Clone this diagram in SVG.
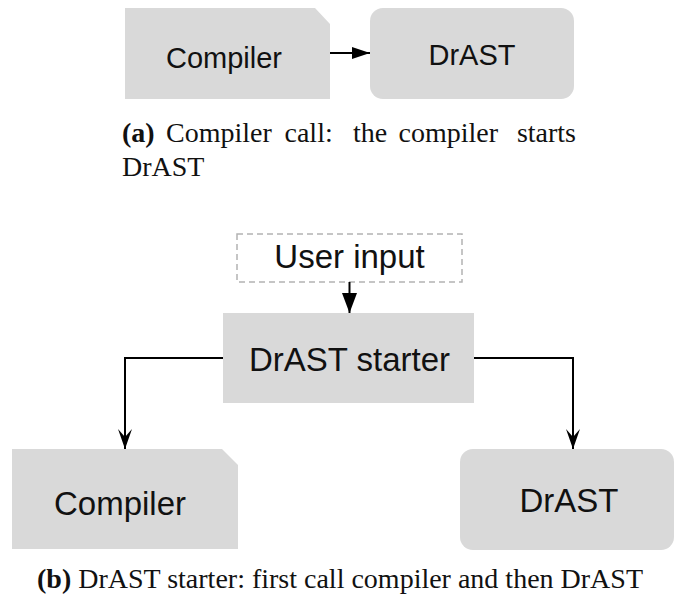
<svg xmlns="http://www.w3.org/2000/svg" width="674" height="603" viewBox="0 0 674 603">
  <style>
    .box { fill: #d9d9d9; stroke: none; }
    .dash { fill: #ffffff; stroke: #b3b3b3; stroke-width: 1.5; stroke-dasharray: 6 4; }
    .lbl { font-family: "Liberation Sans", Arial, sans-serif; fill: #111; text-anchor: middle; }
    .s29 { font-size: 29px; }
    .s33 { font-size: 33px; }
    .cap { font-family: "Liberation Serif", "Times New Roman", serif; font-size: 28px; fill: #111; }
    .b { font-weight: bold; }
    .edge { fill: none; stroke: #000; stroke-width: 2; }
    .head { fill: #000; stroke: none; }
  </style>
  <defs>
    <marker id="tri" viewBox="0 0 18 12" refX="18" refY="6" markerWidth="18" markerHeight="12" markerUnits="userSpaceOnUse" orient="auto">
      <path d="M0,0 L18,6 L0,12 Z" class="head"/>
    </marker>
    <marker id="tri2" viewBox="0 0 20 15" refX="20" refY="7.5" markerWidth="20" markerHeight="15" markerUnits="userSpaceOnUse" orient="auto">
      <path d="M0,0 L20,7.5 L0,15 Z" class="head"/>
    </marker>
    <marker id="barb" viewBox="0 0 20 14" refX="20" refY="7" markerWidth="20" markerHeight="14" markerUnits="userSpaceOnUse" orient="auto">
      <path d="M0,0 L20,7 L0,14 L8,7 Z" class="head"/>
    </marker>
  </defs>

  <!-- (a) -->
  <g id="a-compiler">
    <path class="box" d="M125,8 H315 L330,24 V99 H125 Z"/>
    <text class="lbl s29" x="224" y="68">Compiler</text>
  </g>
  <g id="a-drast">
    <rect class="box" x="370" y="8" width="204" height="91" rx="13" ry="13"/>
    <text class="lbl s29" x="472" y="65">DrAST</text>
  </g>
  <g id="a-connectors">
    <path class="edge" d="M330,53 H370" marker-end="url(#tri)"/>
  </g>
  <g id="caption-a">
    <text class="cap" y="142"><tspan class="b" x="122">(a)</tspan><tspan x="166">Compiler</tspan><tspan x="284.5">call:</tspan><tspan x="353">the</tspan><tspan x="398.5">compiler</tspan></text>
    <text class="cap" x="576" y="142" text-anchor="end">starts</text>
    <text class="cap" x="122" y="176">DrAST</text>
  </g>

  <!-- (b) -->
  <g id="b-userinput">
    <rect class="dash" x="237" y="234" width="225" height="48"/>
    <text class="lbl s33" x="349.5" y="268">User input</text>
  </g>
  <g id="b-starter">
    <rect class="box" x="223" y="313" width="251" height="90"/>
    <text class="lbl s33" x="349.5" y="371">DrAST starter</text>
  </g>
  <g id="b-compiler">
    <path class="box" d="M12,449 H222 L238,465 V549 H12 Z"/>
    <text class="lbl s33" x="120" y="515">Compiler</text>
  </g>
  <g id="b-drast">
    <rect class="box" x="460" y="449" width="214" height="101" rx="13" ry="13"/>
    <text class="lbl s33" x="569" y="512">DrAST</text>
  </g>
  <g id="b-connectors">
    <path class="edge" d="M349.5,282 V313" marker-end="url(#tri2)"/>
    <path class="edge" d="M223,358 H125 V449" marker-end="url(#barb)"/>
    <path class="edge" d="M474,358 H573 V449" marker-end="url(#barb)"/>
  </g>
  <g id="caption-b">
    <text class="cap" x="37" y="588"><tspan class="b">(b)</tspan> DrAST starter:  first call compiler and then DrAST</text>
  </g>
</svg>
